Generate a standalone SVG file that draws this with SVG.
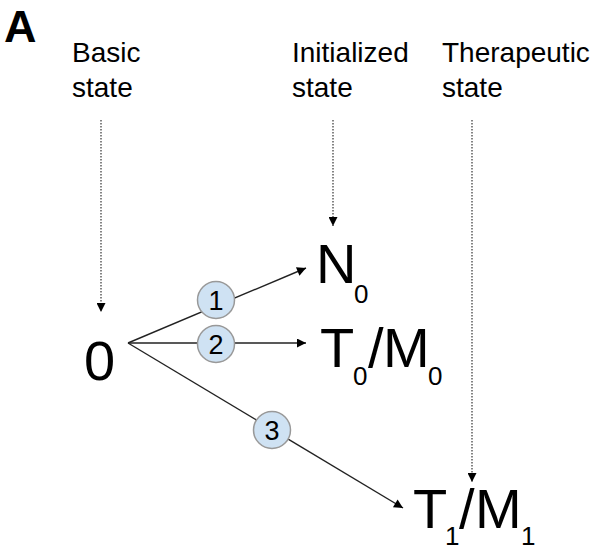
<svg xmlns="http://www.w3.org/2000/svg" width="598" height="550" viewBox="0 0 598 550">
<defs>
<style>
text{font-family:"Liberation Sans",Arial,sans-serif;fill:#000}
.lbl{font-size:28px}
.big{font-size:56px}
.sub{font-size:26px}
.num{font-size:27px;text-anchor:middle}
.solid{stroke:#222;stroke-width:1.4;fill:none}
.dot{stroke:#333;stroke-width:1.2;stroke-dasharray:1.5 1.5;fill:none}
.circ{fill:#cfe2f3;stroke:#999;stroke-width:1.5}
</style>
<marker id="ah" viewBox="0 0 10 10" refX="10" refY="5" markerWidth="12" markerHeight="9" markerUnits="userSpaceOnUse" orient="auto">
<path d="M0,0 L10,5 L0,10 z" fill="#000"/>
</marker>
<marker id="ahd" viewBox="0 0 10 10" refX="10" refY="5" markerWidth="11" markerHeight="9" markerUnits="userSpaceOnUse" orient="auto">
<path d="M0,0 L10,5 L0,10 z" fill="#000"/>
</marker>
</defs>
<rect width="598" height="550" fill="#fff"/>
<text x="4" y="42" style="font-size:45px;font-weight:bold">A</text>
<g id="header-basic"><text class="lbl" x="72" y="62">Basic</text><text class="lbl" x="72" y="97">state</text></g>
<g id="header-initialized"><text class="lbl" x="292" y="62">Initialized</text><text class="lbl" x="292" y="97">state</text></g>
<g id="header-therapeutic"><text class="lbl" x="442" y="62">Therapeutic</text><text class="lbl" x="442" y="97">state</text></g>
<g id="connectors">
<line class="dot" x1="101" y1="120" x2="101" y2="312" marker-end="url(#ahd)"/>
<line class="dot" x1="333" y1="120" x2="333" y2="226" marker-end="url(#ahd)"/>
<line class="dot" x1="472" y1="120" x2="472" y2="482" marker-end="url(#ahd)"/>
<line class="solid" x1="128" y1="343" x2="306" y2="268" marker-end="url(#ah)"/>
<line class="solid" x1="128" y1="343" x2="306" y2="343" marker-end="url(#ah)"/>
<line class="solid" x1="128" y1="343" x2="403" y2="508" marker-end="url(#ah)"/>
</g>
<g id="node-0"><text class="big" x="84" y="380">0</text></g>
<g id="node-N0"><text class="big" x="316" y="283">N</text><text class="sub" x="354" y="303">0</text></g>
<g id="node-T0M0"><text class="big" x="320" y="367">T</text><text class="sub" x="353" y="385">0</text><text class="big" x="368" y="367">/</text><text class="big" x="383" y="367">M</text><text class="sub" x="428" y="385">0</text></g>
<g id="node-T1M1"><text class="big" x="413" y="528">T</text><text class="sub" x="445" y="545">1</text><text class="big" x="459" y="528">/</text><text class="big" x="475" y="528">M</text><text class="sub" x="521" y="545">1</text></g>
<g id="badge-1"><circle class="circ" cx="216" cy="300" r="18.5"/><text class="num" x="216" y="309.5">1</text></g>
<g id="badge-2"><circle class="circ" cx="216" cy="344" r="18.5"/><text class="num" x="216" y="353.5">2</text></g>
<g id="badge-3"><circle class="circ" cx="272" cy="430" r="18.5"/><text class="num" x="272" y="439.5">3</text></g>
</svg>
